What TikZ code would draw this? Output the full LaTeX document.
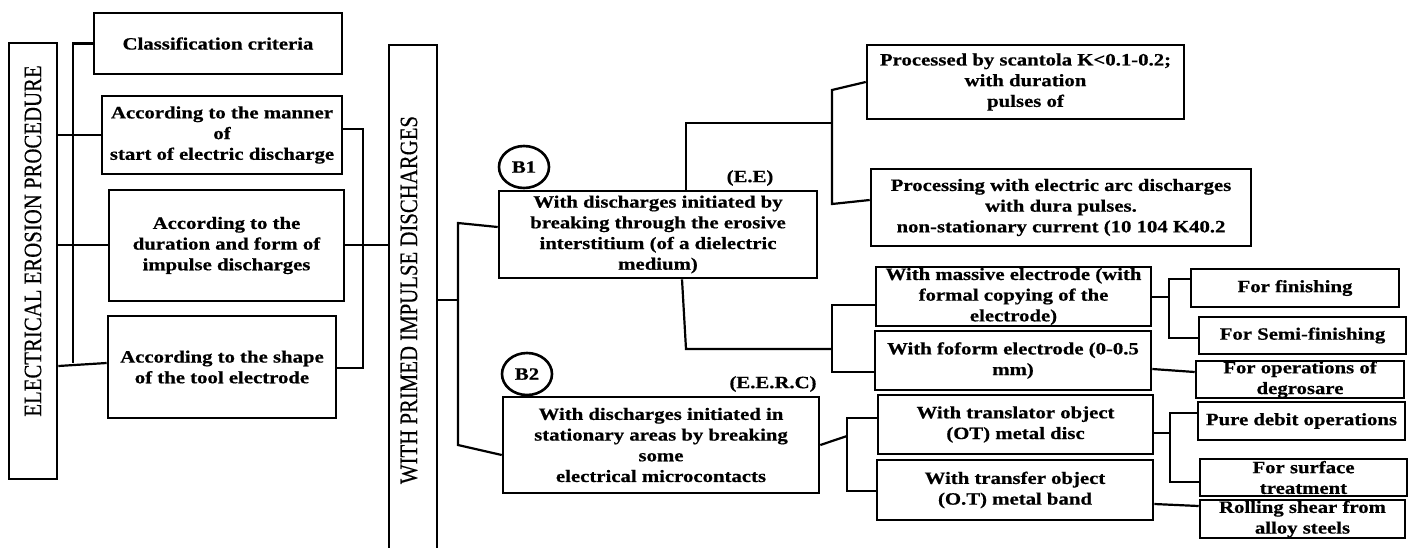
\documentclass[tikz,border=0pt]{standalone}
\usepackage{graphicx}
\usepackage{fontspec}
\setmainfont{Liberation Serif}[FakeStretch=1.2, BoldFeatures={FakeBold=0.6}]
\newfontfamily\rotfont{Liberation Serif}[FakeBold=0.4]
\usetikzlibrary{shapes.geometric}
\newcommand\cbox[6]{\node[box,minimum width=#4pt,minimum height=#5pt] (#1) at (#2,#3) {};
  \node[txt] (#1-t) at (#1.center) {#6};}
\begin{document}
\begin{tikzpicture}[x=1pt,y=-1pt,
  box/.style={draw, line width=2.6pt, inner sep=0pt},
  txt/.style={align=center, inner sep=0pt, font=\bfseries\fontsize{17.3}{20.7}\selectfont},
  con/.style={line width=2.2pt},
  oval/.style={draw, ellipse, line width=2.6pt, minimum width=50pt, minimum height=42pt, inner sep=0pt, font=\bfseries\fontsize{17.3}{20.7}\selectfont},
  rottxt/.style={rotate=90, inner sep=0pt}]
\useasboundingbox (0,0) rectangle (1413,547);
\fill[white] (0,0) rectangle (1413,547);

% left column
\node[box,minimum width=48pt,minimum height=436pt] (eep) at (33,261) {};
\node[rottxt] (eep-t) at (33,241) {\scalebox{1}[1.2]{\rotfont\fontsize{20.8}{25}\selectfont ELECTRICAL EROSION PROCEDURE}};
\cbox{cls}{218}{43.5}{248}{61}{Classification criteria}
\cbox{man}{222}{135}{240}{78}{According to the manner\\of\\start of electric discharge}
\cbox{dur}{226.5}{245.5}{235}{111}{According to the\\duration and form of\\impulse discharges}
\cbox{shp}{222}{367}{228}{102}{According to the shape\\of the tool electrode}

\node[box,minimum width=48pt,minimum height=530pt] (wpid) at (413,310) {};
\node[rottxt] (wpid-t) at (409,300) {\scalebox{1}[1.2]{\rotfont\fontsize{20.8}{25}\selectfont WITH PRIMED IMPULSE DISCHARGES}};

% middle
\node[oval] (b1c) at (524,167) {B1};
\node[oval] (b2c) at (527,374) {B2};
\node[txt] (ee) at (750,178) {(E.E)};
\node[txt] (eerc) at (773,384) {(E.E.R.C)};
\cbox{b1}{658}{234.5}{318}{87}{With discharges initiated by\\breaking through the erosive\\interstitium (of a dielectric\\medium)}
\cbox{b2}{661}{445}{316}{96}{With discharges initiated in\\stationary areas by breaking\\some\\electrical microcontacts}

% right
\cbox{prd}{1025.5}{82}{317}{74}{Processed by scantola K<0.1-0.2;\\with duration\\pulses of}
\cbox{prc}{1061}{207.5}{380}{77}{Processing with electric arc discharges\\with dura pulses.\\non-stationary current (10 104 K40.2}
\cbox{mas}{1013.5}{296.5}{275}{59}{With massive electrode (with\\formal copying of the\\electrode)}
\cbox{fof}{1013}{360.5}{276}{59}{With foform electrode (0-0.5\\mm)}
\cbox{tra}{1015.5}{424.5}{275}{59}{With translator object\\(OT) metal disc}
\cbox{trf}{1015}{490}{276}{60}{With transfer object\\(O.T) metal band}
\cbox{fin}{1295}{288}{208}{38}{For finishing}
\cbox{sem}{1302.5}{335.5}{207}{37}{For Semi-finishing}
\cbox{deg}{1300}{379.5}{208}{37}{For operations of\\degrosare}
\cbox{pur}{1301.5}{421}{207}{38}{Pure debit operations}
\cbox{sur}{1303.5}{477.5}{207}{37}{For surface\\treatment}
\cbox{rol}{1302.5}{519}{205}{38}{Rolling shear from\\alloy steels}

% connectors left
\draw[con] (cls.west) -- (73,43.5) -- (73,363);
\draw[con] (eep.east |- 0,135) -- (man.west |- 0,135);
\draw[con] (eep.east |- 0,245) -- (dur.west |- 0,245);
\draw[con] (eep.east |- 0,366) -- (shp.west |- 0,363);
\draw[con] (man.east |- 0,129) -- (363,129) -- (363,368) -- (shp.east |- 0,368);
\draw[con] (dur.east |- 0,245) -- (wpid.west |- 0,245);
% middle
\draw[con] (wpid.east |- 0,300) -- (458,300);
\draw[con] (b1.west |- 0,227) -- (458,223) -- (458,445) -- (b2.west |- 0,455);
\draw[con] (b1.north -| 686,0) -- (686,123) -- (832,123);
\draw[con] (prd.west |- 0,82) -- (832,90) -- (832,204) -- (prc.west |- 0,200);
\draw[con] (b1.south -| 682,0) -- (686,349) -- (832,349);
\draw[con] (mas.west |- 0,305) -- (832,305) -- (832,372) -- (fof.west |- 0,372);
\draw[con] (b2.east |- 0,445) -- (847,436);
\draw[con] (tra.west |- 0,418) -- (847,418) -- (847,491) -- (trf.west |- 0,491);
% right
\draw[con] (mas.east |- 0,297) -- (1169,297);
\draw[con] (fin.west |- 0,279) -- (1169,279) -- (1169,338) -- (sem.west |- 0,338);
\draw[con] (fof.east |- 0,369) -- (deg.west |- 0,372);
\draw[con] (tra.east |- 0,433) -- (1170,433);
\draw[con] (pur.west |- 0,413) -- (1170,413) -- (1170,482) -- (sur.west |- 0,482);
\draw[con] (trf.east |- 0,504) -- (rol.west |- 0,506);
\end{tikzpicture}
\end{document}
